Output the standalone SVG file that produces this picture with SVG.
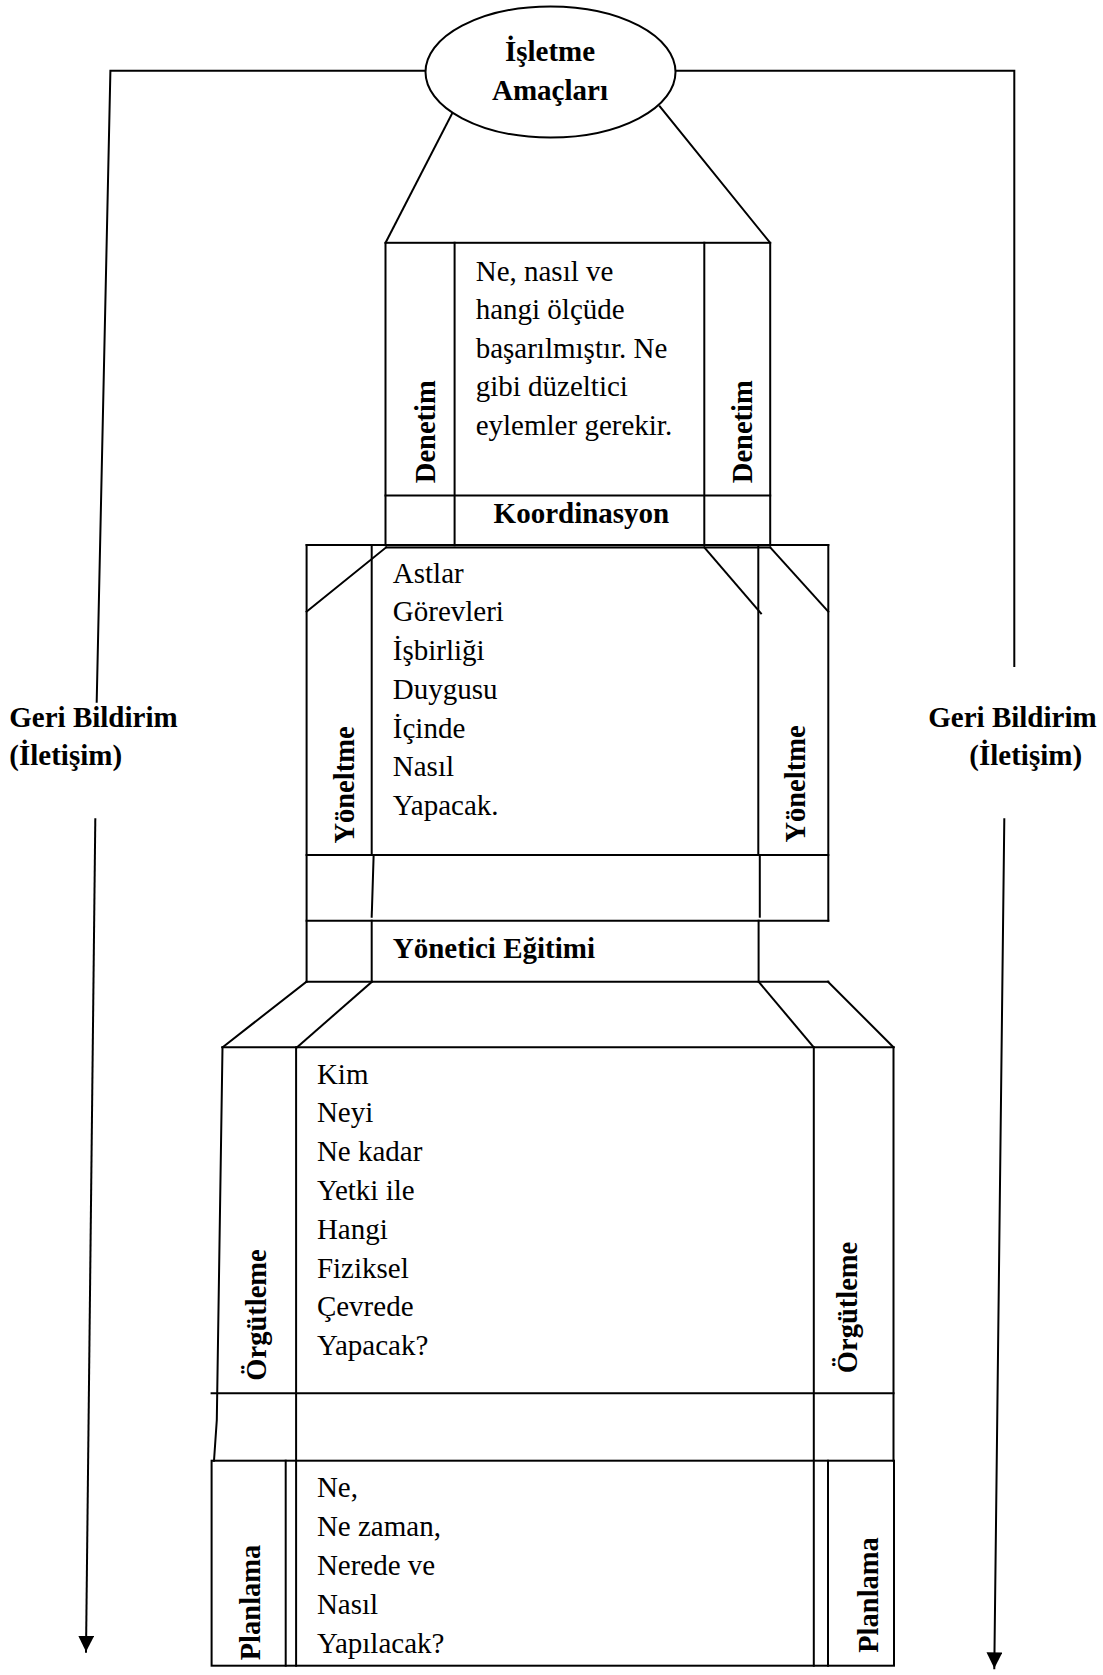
<svg xmlns="http://www.w3.org/2000/svg" width="1103" height="1675" viewBox="0 0 1103 1675">
  <style>
    .ln { stroke: #000; stroke-width: 2; fill: none; stroke-linecap: square; }
    .body { font-family: "Liberation Serif", "Times New Roman", serif; font-size: 29px; fill: #000; }
    .bold { font-family: "Liberation Serif", "Times New Roman", serif; font-size: 29px; font-weight: bold; fill: #000; }
    .vert { font-family: "Liberation Serif", "Times New Roman", serif; font-size: 28.5px; font-weight: bold; fill: #000; text-anchor: middle; }
  </style>
  <defs>
    <marker id="arrow" markerUnits="userSpaceOnUse" markerWidth="16" markerHeight="16" refX="16" refY="8" orient="auto">
      <path d="M0,0 L16,8 L0,16 z" fill="#000"/>
    </marker>
  </defs>
  <rect width="1103" height="1675" fill="#fff"/>

  <!-- feedback loop lines and arrows -->
  <g id="connectors">
    <polyline class="ln" points="425.6,70.7 110.4,70.7 96.7,701.7"/>
    <polyline class="ln" points="675.3,70.7 1014.3,70.7 1014.3,666"/>
    <line class="ln" x1="95.3" y1="819.3" x2="86" y2="1651.7" marker-end="url(#arrow)" stroke-linecap="butt"/>
    <line class="ln" x1="1004.3" y1="819.3" x2="994.3" y2="1668.3" marker-end="url(#arrow)" stroke-linecap="butt"/>
    <!-- links from goals to the control block -->
    <line class="ln" x1="455.8" y1="106.4" x2="385.5" y2="242.9"/>
    <line class="ln" x1="659.8" y1="106.4" x2="770.2" y2="242.9"/>
  </g>

  <!-- goals -->
  <g id="goals">
    <ellipse cx="550.5" cy="72" rx="125" ry="65.5" fill="#fff" stroke="#000" stroke-width="2"/>
    <text class="bold" x="550" y="60.7" text-anchor="middle">İşletme</text>
    <text class="bold" x="550" y="100" text-anchor="middle">Amaçları</text>
  </g>

  <!-- control block -->
  <g id="denetim">
    <rect class="ln" x="385.5" y="242.8" width="384.7" height="302.4"/>
    <line class="ln" x1="454.6" y1="242.8" x2="454.6" y2="545.2"/>
    <line class="ln" x1="704.3" y1="242.8" x2="704.3" y2="545.2"/>
    <line class="ln" x1="385.5" y1="495.5" x2="770.2" y2="495.5"/>
    <text class="body" x="475.7">
      <tspan x="475.7" y="280.7">Ne, nasıl ve</tspan>
      <tspan x="475.7" y="319.2">hangi ölçüde</tspan>
      <tspan x="475.7" y="357.7">başarılmıştır. Ne</tspan>
      <tspan x="475.7" y="396.2">gibi düzeltici</tspan>
      <tspan x="475.7" y="434.7">eylemler gerekir.</tspan>
    </text>
    <text class="vert" transform="translate(435.4,431.7) rotate(-90)">Denetim</text>
    <text class="vert" transform="translate(752.1,431.7) rotate(-90)">Denetim</text>
    <text class="bold" x="493.6" y="523.3">Koordinasyon</text>
  </g>

  <!-- directing block -->
  <g id="yoneltme">
    <line class="ln" x1="306.6" y1="545" x2="828.3" y2="545"/>
    <line class="ln" x1="386.2" y1="547.5" x2="770.2" y2="547.5"/>
    <line class="ln" x1="306.6" y1="545" x2="306.6" y2="981.7"/>
    <line class="ln" x1="828.3" y1="545" x2="828.3" y2="920.7"/>
    <line class="ln" x1="371.7" y1="545" x2="371.7" y2="855"/>
    <line class="ln" x1="373.6" y1="856.7" x2="371.7" y2="916.7"/>
    <line class="ln" x1="758.3" y1="545" x2="758.3" y2="855"/>
    <line class="ln" x1="759.8" y1="855" x2="759.8" y2="916.7"/>
    <line class="ln" x1="386.2" y1="547.3" x2="306.6" y2="611.7"/>
    <line class="ln" x1="704.3" y1="547.3" x2="761" y2="613.3"/>
    <line class="ln" x1="770.2" y1="547.3" x2="828.3" y2="611.7"/>
    <line class="ln" x1="306.6" y1="855" x2="828.3" y2="855"/>
    <text class="body">
      <tspan x="392.8" y="582.7">Astlar</tspan>
      <tspan x="392.8" y="621.4">Görevleri</tspan>
      <tspan x="392.8" y="660.1">İşbirliği</tspan>
      <tspan x="392.8" y="698.8">Duygusu</tspan>
      <tspan x="392.8" y="737.5">İçinde</tspan>
      <tspan x="392.8" y="776.2">Nasıl</tspan>
      <tspan x="392.8" y="814.9">Yapacak.</tspan>
    </text>
    <text class="vert" transform="translate(354,785) rotate(-90)">Yöneltme</text>
    <text class="vert" transform="translate(805.3,784) rotate(-90)">Yöneltme</text>
  </g>

  <!-- manager training row -->
  <g id="egitim">
    <line class="ln" x1="306.6" y1="920.7" x2="828.3" y2="920.7"/>
    <line class="ln" x1="306.6" y1="981.7" x2="828.3" y2="981.7"/>
    <line class="ln" x1="371.7" y1="920.7" x2="371.7" y2="981.7"/>
    <line class="ln" x1="758.6" y1="920.7" x2="758.6" y2="981.7"/>
    <text class="bold" x="392.8" y="958.3">Yönetici Eğitimi</text>
  </g>

  <!-- organising block -->
  <g id="orgutleme">
    <line class="ln" x1="306.5" y1="981.7" x2="222.5" y2="1047.3"/>
    <line class="ln" x1="372" y1="981.7" x2="297" y2="1047.3"/>
    <line class="ln" x1="758.6" y1="981.7" x2="813.8" y2="1047.3"/>
    <line class="ln" x1="828" y1="981.7" x2="893.5" y2="1047.3"/>
    <line class="ln" x1="222.5" y1="1047.3" x2="893.5" y2="1047.3"/>
    <polyline class="ln" points="222.5,1047.3 216.8,1420 214,1460.7"/>
    <line class="ln" x1="296.1" y1="1047.3" x2="296.1" y2="1665.7"/>
    <line class="ln" x1="813.8" y1="1047.3" x2="813.8" y2="1665.7"/>
    <line class="ln" x1="893.5" y1="1047.3" x2="893.5" y2="1460.7"/>
    <line class="ln" x1="211.6" y1="1393.3" x2="893.5" y2="1393.3"/>
    <text class="body">
      <tspan x="316.9" y="1083.5">Kim</tspan>
      <tspan x="316.9" y="1122.3">Neyi</tspan>
      <tspan x="316.9" y="1161.1">Ne kadar</tspan>
      <tspan x="316.9" y="1199.9">Yetki ile</tspan>
      <tspan x="316.9" y="1238.7">Hangi</tspan>
      <tspan x="316.9" y="1277.5">Fiziksel</tspan>
      <tspan x="316.9" y="1316.3">Çevrede</tspan>
      <tspan x="316.9" y="1355.1">Yapacak?</tspan>
    </text>
    <text class="vert" transform="translate(266,1315) rotate(-90)">Örgütleme</text>
    <text class="vert" transform="translate(856.8,1307.5) rotate(-90)">Örgütleme</text>
  </g>

  <!-- planning block -->
  <g id="planlama">
    <rect class="ln" x="211.6" y="1460.7" width="682.4" height="205"/>
    <line class="ln" x1="285.7" y1="1460.7" x2="285.7" y2="1665.7"/>
    <line class="ln" x1="828" y1="1460.7" x2="828" y2="1665.7"/>
    <text class="body">
      <tspan x="316.9" y="1497.3">Ne,</tspan>
      <tspan x="316.9" y="1536.3">Ne zaman,</tspan>
      <tspan x="316.9" y="1575.3">Nerede ve</tspan>
      <tspan x="316.9" y="1614.3">Nasıl</tspan>
      <tspan x="316.9" y="1653.3">Yapılacak?</tspan>
    </text>
    <text class="vert" transform="translate(260.2,1602.5) rotate(-90)">Planlama</text>
    <text class="vert" transform="translate(877.5,1595) rotate(-90)">Planlama</text>
  </g>

  <!-- feedback labels -->
  <g id="feedback-left">
    <text class="bold" x="9.3" y="726.7">Geri Bildirim</text>
    <text class="bold" x="9.3" y="765">(İletişim)</text>
  </g>
  <g id="feedback-right">
    <text class="bold" x="928.3" y="726.7">Geri Bildirim</text>
    <text class="bold" x="969.3" y="765">(İletişim)</text>
  </g>
</svg>
